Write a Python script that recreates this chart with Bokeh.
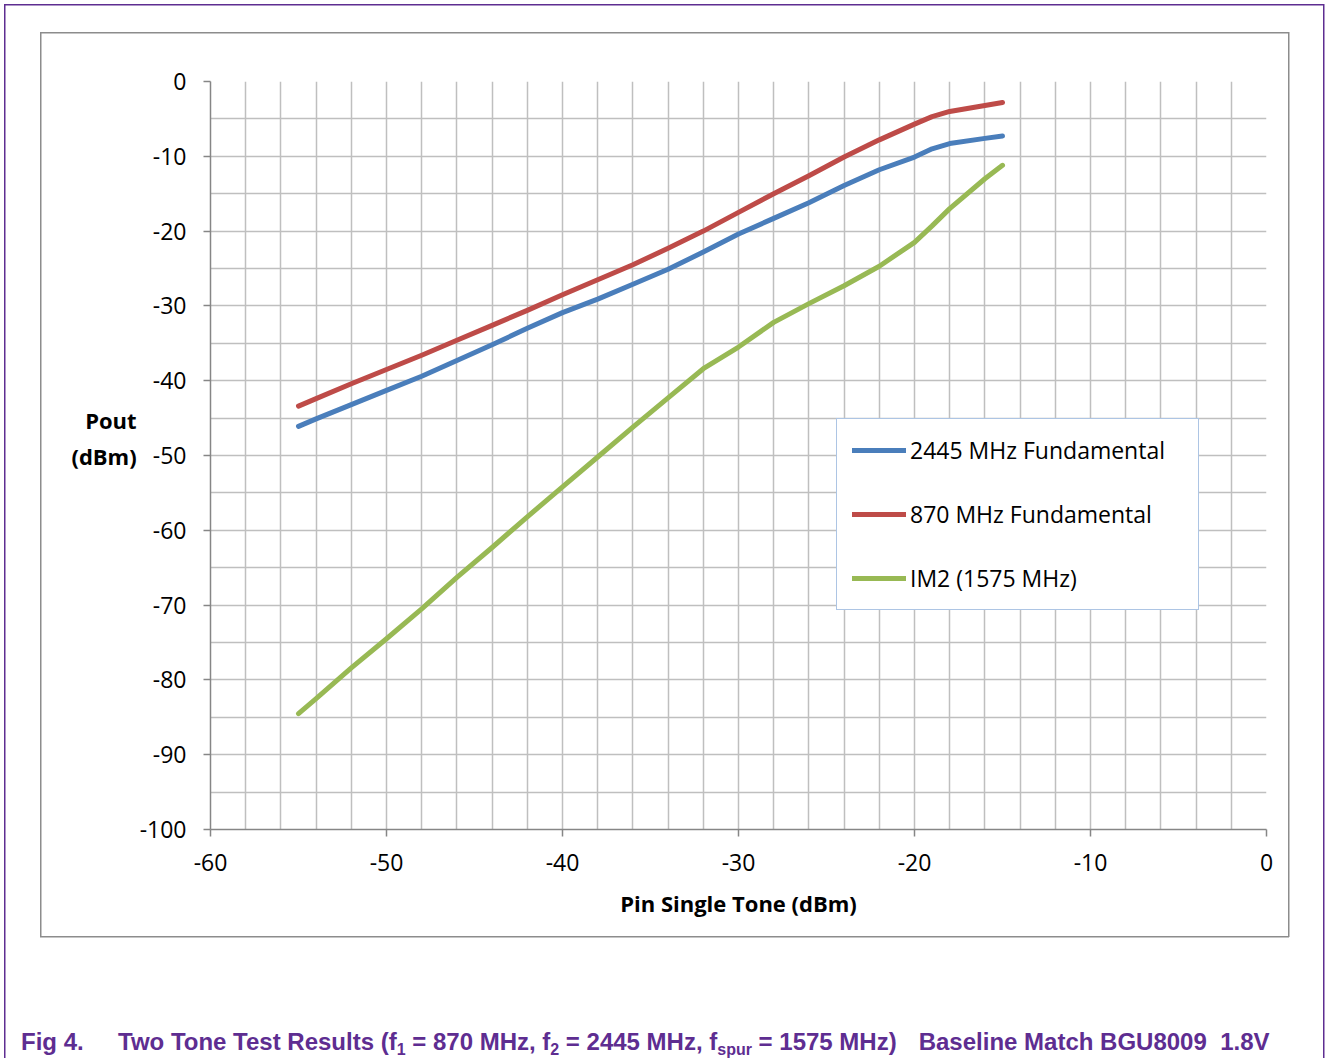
from bokeh.plotting import figure
from bokeh.models import (Range1d, SingleIntervalTicker, Legend, LegendItem,
                          CustomJSTickFormatter, Div, Column)
from bokeh.embed import file_html
from bokeh.resources import INLINE

# ---- data ----
pin_dbm = [-55, -54, -52, -50, -48, -46, -44, -42, -40, -38, -36, -34,
           -32, -30, -28, -26, -24, -22, -20, -19, -18, -16, -15]
fund_2445 = [-46.1, -45.1, -43.2, -41.3, -39.4, -37.3, -35.2, -33.0, -30.9,
             -29.1, -27.1, -25.1, -22.8, -20.4, -18.3, -16.2, -13.9, -11.8,
             -10.1, -9.0, -8.3, -7.6, -7.3]
fund_870 = [-43.4, -42.4, -40.4, -38.5, -36.6, -34.6, -32.6, -30.6, -28.5,
            -26.5, -24.5, -22.3, -20.0, -17.5, -15.0, -12.6, -10.1, -7.8,
            -5.7, -4.7, -4.0, -3.2, -2.8]
im2_1575 = [-84.5, -82.5, -78.4, -74.5, -70.5, -66.3, -62.3, -58.2, -54.2,
            -50.2, -46.2, -42.3, -38.4, -35.5, -32.2, -29.7, -27.3, -24.7,
            -21.5, -19.3, -17.0, -13.0, -11.2]
series_names = ["2445 MHz Fundamental", "870 MHz Fundamental", "IM2 (1575 MHz)"]
series_colors = ["#4A7EBB", "#BE4B48", "#98B954"]
x_title = "Pin Single Tone (dBm)"
y_title = "Pout\n(dBm)\n "

font = "Open Sans"
# chart box lines on the page: x 40..1288, y 32..937 ; plot area x 210..1266, y 81..829
p = figure(width=1244, height=901, output_backend="svg", toolbar_location=None,
           x_range=Range1d(-60, 0), y_range=Range1d(-100, 0),
           min_border_left=168, min_border_right=20, min_border_top=47,
           min_border_bottom=106, margin=(34, 0, 0, 42))
p.outline_line_color = None
p.background_fill_color = "white"
p.border_fill_color = "white"

# grids
p.xgrid.ticker = SingleIntervalTicker(interval=2, num_minor_ticks=0)
p.ygrid.ticker = SingleIntervalTicker(interval=5, num_minor_ticks=0)
for g in (p.xgrid, p.ygrid):
    g.grid_line_color = "#BFBFBF"
    g.grid_line_width = 1.5

# axes
fmt = CustomJSTickFormatter(code="return tick.toFixed(0);")
for ax in (p.xaxis, p.yaxis):
    ax.ticker = SingleIntervalTicker(interval=10, num_minor_ticks=0)
    ax.formatter = fmt
    ax.axis_line_color = "#868686"
    ax.axis_line_width = 1.5
    ax.major_tick_line_color = "#868686"
    ax.major_tick_line_width = 1.5
    ax.major_tick_out = 7
    ax.major_tick_in = 0
    ax.minor_tick_out = 0
    ax.minor_tick_in = 0
    ax.major_label_text_font = font
    ax.major_label_text_font_size = "23px"
    ax.major_label_text_color = "black"
    ax.axis_label_text_font = font
    ax.axis_label_text_font_style = "bold"
    ax.axis_label_text_font_size = "22px"
    ax.axis_label_text_color = "black"
p.yaxis.major_label_standoff = 17
p.xaxis.major_label_standoff = 17
p.xaxis.axis_label = x_title
p.xaxis.axis_label_standoff = 14
p.yaxis.axis_label = y_title
p.yaxis.axis_label_orientation = "horizontal"
p.yaxis.axis_label_standoff = 0

# lines
renderers = []
for ys, c in zip([fund_2445, fund_870, im2_1575], series_colors):
    r = p.line(pin_dbm, ys, line_color=c, line_width=5,
               line_cap="round", line_join="round")
    renderers.append(r)

legend = Legend(items=[LegendItem(label=n, renderers=[r])
                       for n, r in zip(series_names, renderers)],
                location=(626, 219))
legend.glyph_width = 54
legend.glyph_height = 24
legend.label_height = 24
legend.label_width = 273
legend.label_standoff = 4
legend.spacing = 32
legend.padding = 15
legend.margin = 0
legend.label_text_font = font
legend.label_text_font_size = "23px"
legend.label_text_color = "black"
legend.border_line_color = "#5B8BC9"
legend.border_line_width = 1.2
legend.background_fill_color = "white"
legend.background_fill_alpha = 1.0
p.add_layout(legend, "center")

# caption
sub = '<sub style="font-size:16px;line-height:0;vertical-align:-5px">%s</sub>'
caption_html = (
    '<div style="font-family:\'Liberation Sans\',Arial,sans-serif;font-weight:bold;'
    'font-size:24px;line-height:30px;color:#5E2D91;white-space:nowrap;margin:0;padding:0">'
    '<span style="display:inline-block;width:97px">Fig 4.</span>'
    'Two Tone Test Results (f' + sub % "1" + ' = 870 MHz, f' + sub % "2" +
    ' = 2445 MHz, f' + sub % "spur" + ' = 1575 MHz)'
    '<span style="display:inline-block;width:22px"></span>'
    'Baseline Match BGU8009&nbsp;&nbsp;1.8V</div>'
)
cap = Div(text=caption_html, width=1300, height=30, margin=(92, 0, 0, 21))

purple = "#5E2D91"
gray = "#8C8C8C"
def seg(color, x, y, w, h):
    return f"linear-gradient({color},{color}) {x}px {y}px / {w}px {h}px no-repeat"

bg = ", ".join([
    seg(purple, 4, 4, 1.5, 1100),
    seg(purple, 4, 4, 1320, 1.5),
    seg(purple, 1323, 4, 1.5, 1100),
    seg(gray, 40, 32, 1.5, 905),
    seg(gray, 40, 32, 1249, 1.5),
    seg(gray, 1287.5, 32, 1.5, 905),
    seg(gray, 40, 935.5, 1249, 1.5),
])
page = Column(children=[p, cap], width=1326, height=1058,
              styles={"background": bg, "background-color": "white"})

open("out.html", "w").write(file_html(page, INLINE))
